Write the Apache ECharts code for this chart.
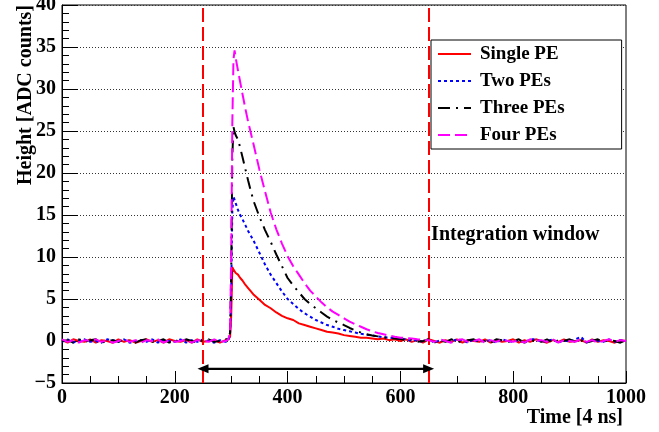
<!DOCTYPE html>
<html>
<head>
<meta charset="utf-8">
<script src="https://cdn.jsdelivr.net/npm/echarts@6/dist/echarts.min.js"></script>
<style>html,body{margin:0;padding:0;background:#fff;}#chart{width:659px;height:432px;}</style>
</head>
<body>
<div id="chart"></div>
<script>
// ---- data ----
const timeSamples = [0,10,20,30,40,50,60,70,80,90,100,110,120,130,140,150,160,170,180,190,200,210,220,230,240,250,260,270,280,290,
  295,298,300,302,304,306,308,312,316,320,325,330,335,340,
  350,360,370,380,390,400,410,420,430,440,450,460,470,480,490,500,510,520,530,540,550,560,570,580,590,600,
  610,620,630,640,650,660,670,680,690,700,710,720,730,740,750,760,770,780,790,800,810,820,830,840,850,860,870,880,890,900,910,920,930,940,950,960,970,980,990,1000];

const singlePE = [0.1,-0.2,0.2,0.0,-0.1,0.2,-0.2,0.1,0.0,-0.2,0.2,-0.1,0.1,-0.2,0.0,0.2,-0.1,0.1,-0.2,0.2,0.0,-0.1,0.1,-0.2,0.2,-0.1,0.0,0.1,-0.2,0.1,
  0.2,0.5,3.0,8.8,8.5,8.4,8.1,7.9,7.5,7.2,6.7,6.3,5.9,5.5,
  4.9,4.3,3.9,3.4,3.0,2.7,2.5,2.1,1.9,1.7,1.5,1.3,1.1,1.0,0.9,0.7,0.6,0.5,0.4,0.4,0.3,0.2,0.3,0.1,0.2,0.0,
  0.2,-0.1,0.1,-0.2,0.2,0.0,-0.2,0.1,-0.1,0.2,-0.2,0.1,0.0,-0.1,0.2,-0.2,0.1,-0.1,0.0,0.2,-0.2,0.1,-0.1,0.2,0.0,-0.2,0.1,-0.1,0.2,-0.1,0.0,0.1,-0.2,0.2,-0.1,0.1,0.0,-0.2,0.1,0.0];

const twoPEs = [-0.1,0.2,-0.2,0.1,0.2,-0.1,0.0,-0.2,0.2,0.1,-0.1,0.2,-0.2,0.0,0.1,-0.1,0.2,-0.2,0.1,0.0,-0.1,0.2,-0.2,0.1,-0.1,0.2,0.0,-0.2,0.1,-0.1,
  0.1,0.8,6.0,15.5,17.2,16.8,16.4,15.6,15.0,14.5,13.8,13.1,12.5,11.9,
  10.5,9.1,7.9,6.9,5.9,5.0,4.4,3.8,3.3,2.9,2.5,2.2,1.9,1.7,1.45,1.3,1.15,1.0,0.85,0.75,0.65,0.55,0.45,0.4,0.3,0.25,
  0.2,0.0,0.1,-0.1,0.2,-0.2,0.1,0.0,-0.1,0.2,0.1,-0.2,0.2,-0.1,0.0,0.1,-0.2,0.2,0.0,-0.1,0.1,-0.2,0.2,0.2,-0.1,0.0,0.2,-0.2,0.1,-0.1,0.2,0.5,-0.2,0.1,0.0,-0.1,0.2,-0.1,0.1,0.0];

const threePEs = [0.0,0.1,-0.2,0.2,-0.1,0.1,0.2,-0.2,0.0,0.1,-0.1,0.2,0.0,-0.2,0.1,0.2,-0.1,0.0,0.2,-0.2,0.1,-0.1,0.2,0.0,-0.2,0.1,0.2,-0.1,0.0,0.2,
  0.2,1.0,8.0,22.0,25.5,24.9,24.5,24.0,23.0,21.9,20.5,19.1,17.8,16.6,
  14.8,13.2,11.8,10.3,8.9,7.5,6.6,5.8,5.0,4.4,3.9,3.4,2.9,2.5,2.2,1.9,1.55,1.25,1.0,0.8,0.65,0.55,0.45,0.35,0.3,0.25,
  0.1,0.2,-0.1,0.0,0.2,-0.2,0.1,-0.1,0.2,0.0,-0.2,0.1,0.2,-0.1,0.0,-0.2,0.2,0.1,-0.1,0.0,0.2,-0.2,0.1,0.0,-0.1,0.2,-0.2,0.1,0.0,0.2,-0.1,0.1,-0.2,0.0,0.2,-0.1,0.1,0.0,-0.2,0.1];

const fourPEs = [0.2,-0.1,0.1,-0.2,0.1,0.0,0.2,-0.1,0.1,-0.2,0.0,0.2,-0.1,0.1,-0.2,0.1,0.0,0.2,-0.2,0.1,-0.1,0.0,0.2,-0.2,0.1,0.0,-0.1,0.2,-0.1,0.0,
  0.2,1.2,10.0,26.0,33.5,34.6,33.7,32.2,30.8,29.4,27.7,26.1,24.7,23.3,
  20.4,17.8,15.3,13.3,11.6,10.1,8.9,7.9,6.9,6.0,5.3,4.6,4.0,3.5,3.1,2.7,2.3,2.0,1.7,1.4,1.15,0.95,0.8,0.65,0.5,0.4,
  0.35,0.3,0.2,0.15,0.1,-0.1,0.2,0.0,-0.2,0.1,0.2,-0.1,0.0,0.2,-0.2,0.1,-0.1,0.2,0.0,-0.1,0.1,-0.2,0.2,0.0,0.1,-0.1,0.2,-0.2,0.1,0.0,-0.1,0.2,-0.1,0.1,-0.2,0.0,0.2,-0.1,0.1,0.0];

const seriesNames = ['Single PE', 'Two PEs', 'Three PEs', 'Four PEs'];
const windowEdges = [250, 650];
const arrowLevel = -3.3;
const windowLabelLevel = 12.6;
const windowLabel = 'Integration window';
const xTitle = 'Time [4 ns]';
const yTitle = 'Height [ADC counts]';

// ---- chart ----
const FONT = '"Liberation Serif", "Times New Roman", serif';
const pair = ys => timeSamples.map((x, i) => [x, ys[i]]);
const seriesValues = [singlePE, twoPEs, threePEs, fourPEs];
const colors = ['#ff0000', '#0000ff', '#000000', '#ff00ff'];
const dashes = ['solid', [3, 3], [12, 6, 2, 6], [12, 5]];

const chart = echarts.init(document.getElementById('chart'), null, {renderer: 'canvas'});

const lineSeries = seriesNames.map((name, k) => ({
  type: 'line',
  name: name,
  data: pair(seriesValues[k]),
  symbol: 'none',
  showSymbol: false,
  clip: true,
  lineStyle: {color: colors[k], width: 2, type: dashes[k]},
  itemStyle: {color: colors[k]},
  z: 3 + k
}));

const helper = {
  type: 'line',
  name: 'window',
  data: windowEdges.map(x => [x, arrowLevel]),
  symbol: 'none',
  lineStyle: {color: '#000', width: 2},
  z: 10,
  markLine: {
    silent: true,
    animation: false,
    symbol: ['none', 'none'],
    label: {show: false},
    data: [
      {xAxis: windowEdges[0], lineStyle: {color: '#ff0000', width: 2, type: [14, 5]}},
      {xAxis: windowEdges[1], lineStyle: {color: '#ff0000', width: 2, type: [14, 5]}},
      [
        {coord: [windowEdges[0], arrowLevel], symbol: 'triangle', symbolSize: [9, 11], lineStyle: {color: '#000', width: 2, type: 'solid'}},
        {coord: [windowEdges[1], arrowLevel], symbol: 'triangle', symbolSize: [9, 11]}
      ]
    ]
  },
  markPoint: {
    silent: true,
    symbol: 'circle',
    symbolSize: 1,
    itemStyle: {color: 'rgba(0,0,0,0)'},
    label: {
      show: true, position: 'right', distance: 2,
      formatter: windowLabel,
      fontFamily: FONT, fontWeight: 'bold', fontSize: 20, color: '#000'
    },
    data: [{coord: [windowEdges[1], windowLabelLevel]}]
  }
};

const axisLabelStyle = {fontFamily: FONT, fontWeight: 'bold', fontSize: 20, color: '#000'};

chart.setOption({
  animation: false,
  backgroundColor: '#ffffff',
  grid: {left: 62, right: 33, top: 5, bottom: 49, containLabel: false, outerBoundsMode: 'none',
    show: true, borderColor: '#000', borderWidth: 1, backgroundColor: 'rgba(0,0,0,0)'},
  xAxis: {
    type: 'value', min: 0, max: 1000, interval: 200,
    axisLine: {show: true, onZero: false, lineStyle: {color: '#000', width: 1}},
    axisTick: {show: true, inside: true, length: 12, lineStyle: {color: '#000'}},
    minorTick: {show: true, splitNumber: 4, length: 7, lineStyle: {color: '#000'}},
    splitLine: {show: false},
    axisLabel: Object.assign({margin: 5, formatter: v => String(v)}, axisLabelStyle)
  },
  yAxis: {
    type: 'value', min: -5, max: 40, interval: 5,
    axisLine: {show: true, onZero: false, lineStyle: {color: '#000', width: 1}},
    axisTick: {show: true, inside: true, length: 16, lineStyle: {color: '#000'}},
    minorTick: {show: true, splitNumber: 5, length: 7, lineStyle: {color: '#000'}},
    splitLine: {show: true, lineStyle: {color: '#333', width: 1, type: [1, 2]}},
    axisLabel: Object.assign({margin: 6, formatter: v => v < 0 ? '\u2212' + Math.abs(v) : String(v)}, axisLabelStyle)
  },
  legend: {
    data: seriesNames,
    orient: 'vertical', left: 431, top: 40,
    padding: [4, 57, 4, 6],
    itemWidth: 33, itemHeight: 14, itemGap: 7,
    backgroundColor: '#fff', borderColor: '#000', borderWidth: 1, borderRadius: 0,
    selectedMode: false,
    itemStyle: {opacity: 0},
    textStyle: {fontFamily: FONT, fontWeight: 'bold', fontSize: 19, color: '#000', lineHeight: 20, padding: [0, 0, 0, 4]}
  },
  graphic: [{
    type: 'text', x: 26, y: 5, rotation: Math.PI / 2,
    style: {text: yTitle, font: 'bold 20px ' + FONT, fill: '#000', align: 'right', verticalAlign: 'middle'}
  }, {
    type: 'text', x: 623, y: 418,
    style: {text: xTitle, font: 'bold 20px ' + FONT, fill: '#000', align: 'right', verticalAlign: 'middle'}
  }],
  series: lineSeries.concat([helper])
});
</script>
</body>
</html>
